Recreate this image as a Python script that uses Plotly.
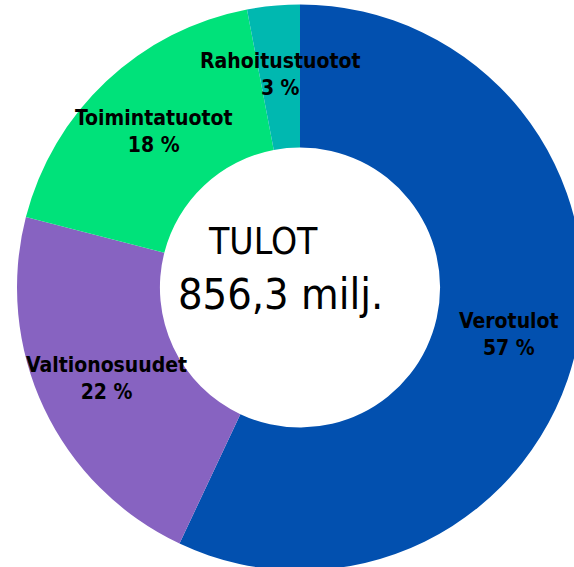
import math
import plotly.graph_objects as go

categories = ["Verotulot", "Valtionosuudet", "Toimintatuotot", "Rahoitustuotot"]
shares = [57, 22, 18, 3]
colors = ["#0250AF", "#8763C1", "#00E27A", "#00B8B0"]
center_title = "TULOT"
center_total = "856,3 milj."

FONT = "DejaVu Sans Condensed, Roboto Condensed, Liberation Sans Narrow, Roboto, sans-serif"

W, H = 600, 575
ML, MR, MT, MB = 17, 17, 3, 3
PW, PH = W - ML - MR, H - MT - MB
R_OUT = min(PW, PH) / 2
LABEL_R = 0.757 * R_OUT

fig = go.Figure(go.Pie(
    labels=categories,
    values=shares,
    hole=0.495,
    sort=False,
    direction="clockwise",
    rotation=0,
    marker=dict(colors=colors, line=dict(width=0)),
    textinfo="none",
    hoverinfo="label+percent",
    showlegend=False,
))

# slice labels at the middle angle of each slice (computed from the data)
total = sum(shares)
cum = 0
for cat, v in zip(categories, shares):
    mid = (cum + v / 2) / total * 2 * math.pi
    cum += v
    x = 0.5 + LABEL_R * math.sin(mid) / PW
    y = 0.5 + LABEL_R * math.cos(mid) / PH
    fig.add_annotation(text=f"<b>{cat}</b><br><b>{v} %</b>", x=x, y=y,
                       xref="paper", yref="paper", xanchor="center", yanchor="middle",
                       showarrow=False,
                       font=dict(family=FONT, size=21, color="black"))

fig.add_annotation(text=center_title, x=(263 - ML) / PW, y=1 - (241 - MT) / PH,
                   xref="paper", yref="paper", xanchor="center", yanchor="middle",
                   showarrow=False,
                   font=dict(family=FONT, size=37, color="black"))
fig.add_annotation(text=center_total, x=(280 - ML) / PW, y=1 - (294 - MT) / PH,
                   xref="paper", yref="paper", xanchor="center", yanchor="middle",
                   showarrow=False,
                   font=dict(family=FONT, size=43, color="black"))

fig.update_layout(
    width=W, height=H,
    margin=dict(l=ML, r=MR, t=MT, b=MB),
    paper_bgcolor="white",
    plot_bgcolor="white",
)

fig.write_html("out.html", config={"displayModeBar": False},
               post_script="document.body.style.margin='0';document.body.style.overflow='hidden';document.documentElement.style.overflow='hidden';")
